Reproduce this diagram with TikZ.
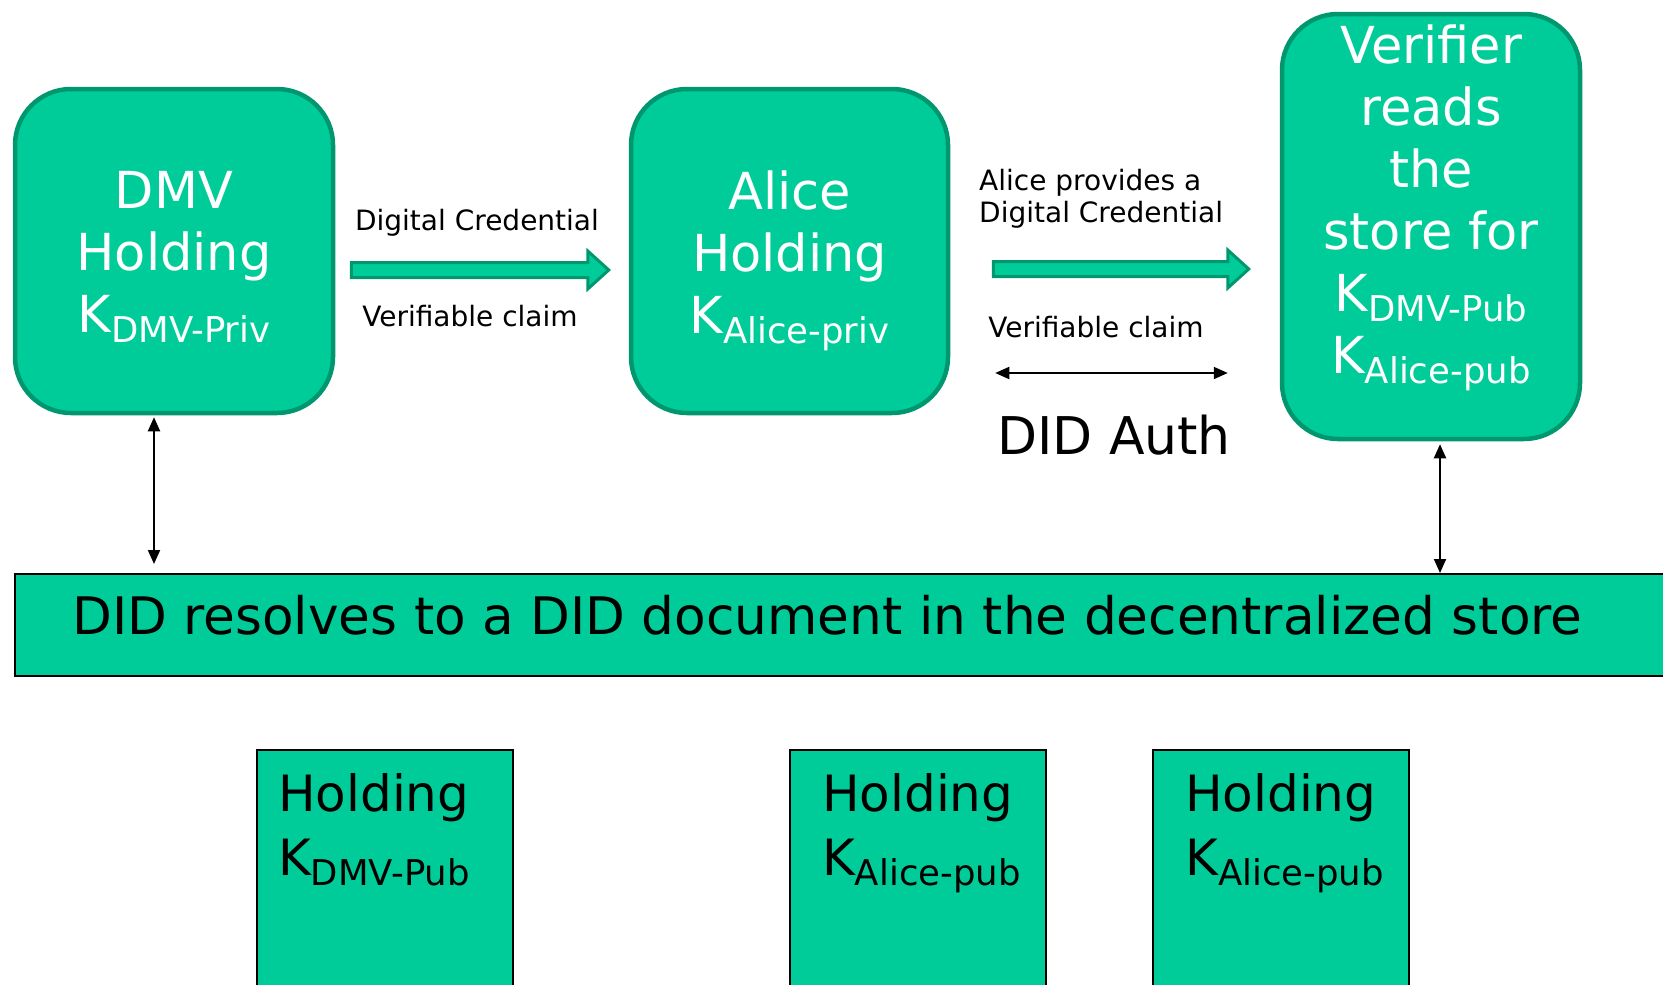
\documentclass[tikz,border=0pt]{standalone}
\usepackage{fontspec}
\setmainfont{DejaVu Sans}
\usetikzlibrary{arrows.meta,calc}
\definecolor{didgreen}{RGB}{0,204,153}
\definecolor{didborder}{RGB}{0,150,110}
\newcommand{\Kwith}[1]{K\raisebox{-10pt}{\fontsize{35.5}{35.5}\selectfont #1}}
\begin{document}
\begin{tikzpicture}[x=1pt,y=-1pt,
  topbox/.style={draw=didborder, line width=4.5pt, fill=didgreen, rounded corners=56pt, inner sep=0pt},
  boxtext/.style={text=white, align=center, font=\fontsize{51}{62}\selectfont, inner sep=0pt},
  plainbox/.style={draw=black, line width=2.2pt, fill=didgreen, inner sep=0pt},
  bottext/.style={text=black, align=left, font=\fontsize{50}{64}\selectfont, inner sep=0pt, anchor=north west},
  lbl/.style={text=black, font=\fontsize{28}{32}\selectfont, inner sep=0pt},
  blockarrow/.style={draw=didborder, fill=didgreen, line width=3pt, line join=miter},
  thin arrow/.style={draw=black, line width=2pt, {Triangle[length=14pt,width=12pt]}-{Triangle[length=14pt,width=12pt]}}
]
\useasboundingbox (0,0) rectangle (1663,985);
\clip (0,0) rectangle (1663,985);

% top boxes
\node[topbox, minimum width=318pt, minimum height=324pt] (dmv) at (174,251) {};
\node[boxtext] (dmvtext) at (174,257) {DMV\\Holding\\\Kwith{DMV-Priv}};

\node[topbox, minimum width=317pt, minimum height=324pt] (alice) at (789.5,251) {};
\node[boxtext] (alicetext) at (789.5,260.5) {Alice\\Holding\\\Kwith{Alice-priv}};

\node[topbox, minimum width=298pt, minimum height=425pt] (ver) at (1431,226.5) {};
\node[boxtext] (vertext) at (1431,208) {Verifier\\reads\\the\\store for\\\Kwith{DMV-Pub}\\\Kwith{Alice-pub}};

% store bar
\node[plainbox, anchor=north west, minimum width=1700pt, minimum height=102pt] (store) at (14,573) {};
\node[text=black, font=\fontsize{51.7}{62}\selectfont, inner sep=0pt, anchor=base west] (storetext) at (72,634) {DID resolves to a DID document in the decentralized store};

% bottom boxes
\node[plainbox, anchor=north west, minimum width=256pt, minimum height=300pt] (b1) at (256,749) {};
\node[bottext] (b1text) at (278,773) {Holding\\\Kwith{DMV-Pub}};
\node[plainbox, anchor=north west, minimum width=256pt, minimum height=300pt] (b2) at (789,749) {};
\node[bottext] (b2text) at (822,773) {Holding\\\Kwith{Alice-pub}};
\node[plainbox, anchor=north west, minimum width=256pt, minimum height=300pt] (b3) at (1152,749) {};
\node[bottext] (b3text) at (1185,773) {Holding\\\Kwith{Alice-pub}};

% labels
\node[lbl, anchor=base] (dc1) at (477,230) {Digital Credential};
\node[lbl, anchor=base] (vc1) at (470,326) {Verifiable claim};
\node[lbl, anchor=north west, align=left] (apdc) at (979,169) {Alice provides a\\Digital Credential};
\node[lbl, anchor=base] (vc2) at (1096,337) {Verifiable claim};
\node[text=black, font=\fontsize{52}{62}\selectfont, inner sep=0pt, anchor=base] (auth) at (1114,454) {DID Auth};

% block arrows
\coordinate (a1s) at ($(dmv.east)+(16,19)$);
\coordinate (a1e) at ($(alice.west)+(-20,19)$);
\filldraw[blockarrow] ($(a1s)+(0,-7.5)$) -- ($(a1e)+(-21,-7.5)$) -- ($(a1e)+(-21,-19)$) -- (a1e) -- ($(a1e)+(-21,19)$) -- ($(a1e)+(-21,7.5)$) -- ($(a1s)+(0,7.5)$) -- cycle;

\coordinate (a2s) at ($(alice.east)+(43,18)$);
\coordinate (a2e) at ($(ver.west)+(-31,42.5)$);
\filldraw[blockarrow] ($(a2s)+(0,-7.5)$) -- ($(a2e)+(-21,-7.5)$) -- ($(a2e)+(-21,-19)$) -- (a2e) -- ($(a2e)+(-21,19)$) -- ($(a2e)+(-21,7.5)$) -- ($(a2s)+(0,7.5)$) -- cycle;

% DID Auth double arrow
\coordinate (da1) at ($(alice.east)+(45,122)$);
\coordinate (da2) at ($(ver.west)+(-52,146.5)$);
\draw[thin arrow] (da1) -- (da2);

% vertical arrows
\coordinate (v1t) at ([xshift=-20pt,yshift=-2pt]dmv.south);
\coordinate (v1b) at ([yshift=9pt]store.north -| v1t);
\draw[thin arrow] (v1t) -- (v1b);
\coordinate (v2t) at ([xshift=9pt,yshift=-3pt]ver.south);
\coordinate (v2b) at (store.north -| v2t);
\draw[thin arrow] (v2t) -- (v2b);
\end{tikzpicture}
\end{document}
